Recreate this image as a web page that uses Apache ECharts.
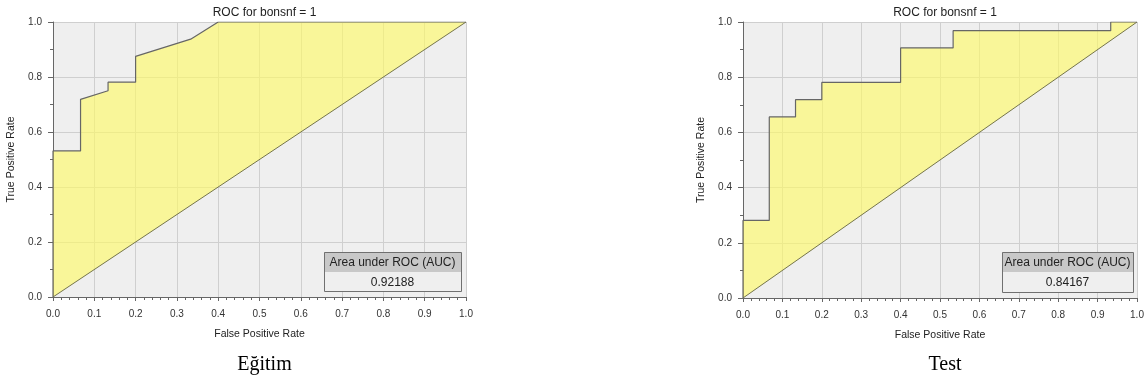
<!DOCTYPE html>
<html><head><meta charset="utf-8">
<script src="https://cdn.jsdelivr.net/npm/echarts@6/dist/echarts.min.js"></script>
<style>html,body{margin:0;padding:0;background:#fff}#c{width:1147px;height:385px}</style>
</head><body><div id="c"></div>
<script>
// Training (Eğitim) ROC curve points: [FPR, TPR]
const trainFPR = [0, 0, 0.0667, 0.0667, 0.1333, 0.1333, 0.2, 0.2, 0.3333, 0.4, 1.0];
const trainTPR = [0, 0.53125, 0.53125, 0.71875, 0.75, 0.78125, 0.78125, 0.875, 0.9375, 1.0, 1.0];
// Test ROC curve points
const testFPR = [0, 0, 0.0667, 0.0667, 0.1333, 0.1333, 0.2, 0.2, 0.4, 0.4, 0.5333, 0.5333, 0.9333, 0.9333, 1.0];
const testTPR = [0, 0.28125, 0.28125, 0.65625, 0.65625, 0.71875, 0.71875, 0.78125, 0.78125, 0.90625, 0.90625, 0.96875, 0.96875, 1.0, 1.0];
const diagonal = [[0, 0], [1, 1]];
const chartTitles = ['ROC for bonsnf = 1', 'ROC for bonsnf = 1'];
const subTitles = ['Eğitim', 'Test'];
const aucValues = ['0.92188', '0.84167'];
const aucHeader = 'Area under ROC (AUC)';
const xName = 'False Positive Rate';
const yName = 'True Positive Rate';

const zip = (a, b) => a.map((v, i) => [v, b[i]]);
const curves = [zip(trainFPR, trainTPR), zip(testFPR, testTPR)];

const grids = [
  {left: 53, top: 22, width: 413, height: 275},
  {left: 743, top: 22, width: 394, height: 276}
];
const font = 'Liberation Sans, Arial, sans-serif';

const option = {
  animation: false,
  backgroundColor: '#fff',
  title: [],
  grid: grids.map(g => Object.assign({show: true, backgroundColor: '#efefef', borderWidth: 0}, g)),
  xAxis: [], yAxis: [], series: [], graphic: []
};

grids.forEach((g, i) => {
  option.title.push({text: chartTitles[i], left: g.left + g.width / 2, top: 2, textAlign: 'center',
    textStyle: {fontFamily: font, fontSize: 12, fontWeight: 'normal', color: '#222'}});
  option.title.push({text: subTitles[i], left: g.left + g.width / 2, top: 350, textAlign: 'center',
    textStyle: {fontFamily: 'Liberation Serif, Times New Roman, serif', fontSize: 20, fontWeight: 'normal', color: '#000'}});
  option.xAxis.push({
    type: 'value', gridIndex: i, min: 0, max: 1, interval: 0.1,
    name: xName, nameLocation: 'middle', nameGap: 32,
    nameTextStyle: {fontFamily: font, fontSize: 10.5, color: '#222'},
    axisLine: {show: true, lineStyle: {color: '#666', width: 1}},
    axisTick: {show: true, length: 4, lineStyle: {color: '#666'}},
    minorTick: {show: true, splitNumber: 5, length: 3, lineStyle: {color: '#666'}},
    splitLine: {show: true, lineStyle: {color: '#cfcfcf', width: 1}},
    axisLabel: {fontFamily: font, fontSize: 10, color: '#333', margin: 12, formatter: v => v.toFixed(1)}
  });
  option.yAxis.push({
    type: 'value', gridIndex: i, min: 0, max: 1, interval: 0.2,
    name: yName, nameLocation: 'middle', nameGap: 36,
    nameTextStyle: {fontFamily: font, fontSize: 10.5, color: '#222'},
    axisLine: {show: true, lineStyle: {color: '#666', width: 1}},
    axisTick: {show: true, length: 5, lineStyle: {color: '#666'}},
    minorTick: {show: true, splitNumber: 2, length: 3, lineStyle: {color: '#666'}},
    splitLine: {show: true, lineStyle: {color: '#cfcfcf', width: 1}},
    axisLabel: {fontFamily: font, fontSize: 10, color: '#333', margin: 11, formatter: v => v.toFixed(1)}
  });
  const pts = curves[i];
  option.series.push({
    type: 'custom', xAxisIndex: i, yAxisIndex: i, data: [[0, 0]], silent: true, z: 1,
    renderItem: (params, api) => {
      const poly = pts.map(p => api.coord(p));
      const back = diagonal.slice().reverse().map(p => api.coord(p));
      return {type: 'polygon', shape: {points: poly.concat(back)},
        style: {fill: 'rgba(255,250,100,0.62)', stroke: null}};
    }
  });
  option.series.push({
    type: 'line', xAxisIndex: i, yAxisIndex: i, data: diagonal, symbol: 'none', z: 3,
    lineStyle: {color: '#75754a', width: 1}, silent: true
  });
  option.series.push({
    type: 'line', xAxisIndex: i, yAxisIndex: i, data: pts, symbol: 'none', z: 4,
    lineStyle: {color: '#666666', width: 1.2}, silent: true
  });
});

// AUC boxes
const boxes = [
  {x: 324, y: 252, w: 137, h: 39},
  {x: 1002, y: 252, w: 131, h: 40}
];
boxes.forEach((b, i) => {
  const hh = Math.round(b.h / 2);
  option.graphic.push({type: 'rect', shape: {x: b.x, y: b.y, width: b.w, height: hh}, style: {fill: '#c8c8c8'}, z: 10});
  option.graphic.push({type: 'rect', shape: {x: b.x, y: b.y + hh, width: b.w, height: b.h - hh}, style: {fill: '#efefef'}, z: 10});
  option.graphic.push({type: 'rect', shape: {x: b.x + 0.5, y: b.y + 0.5, width: b.w, height: b.h}, style: {fill: null, stroke: '#707070', lineWidth: 1}, z: 11});
  option.graphic.push({type: 'text', x: b.x + b.w / 2, y: b.y + hh / 2 + 1, z: 12,
    style: {text: aucHeader, fontFamily: font, fontSize: 12, fill: '#222', align: 'center', verticalAlign: 'middle'}});
  option.graphic.push({type: 'text', x: b.x + b.w / 2, y: b.y + hh + (b.h - hh) / 2 + 1, z: 12,
    style: {text: aucValues[i], fontFamily: font, fontSize: 12, fill: '#222', align: 'center', verticalAlign: 'middle'}});
});

const chart = echarts.init(document.getElementById('c'), null, {renderer: 'canvas'});
chart.setOption(option);
</script></body></html>
